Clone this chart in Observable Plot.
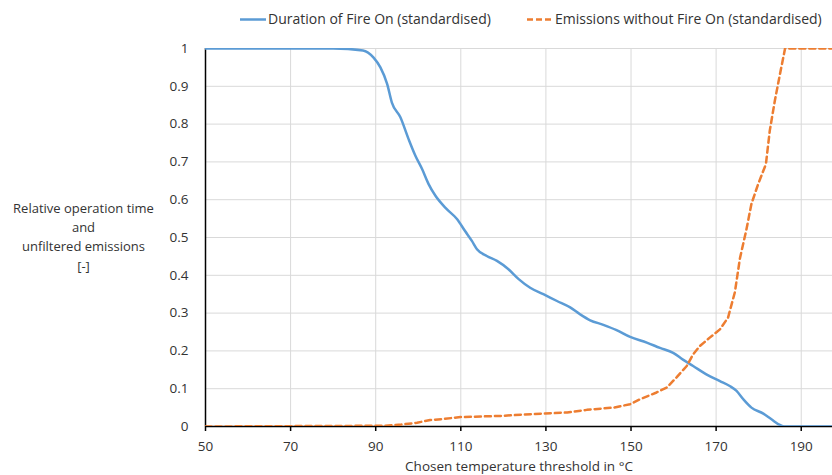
<!DOCTYPE html>
<html><head><meta charset="utf-8">
<script src="https://cdn.jsdelivr.net/npm/d3@7"></script>
<script src="https://cdn.jsdelivr.net/npm/@observablehq/plot@0.6"></script>
<style>
body{margin:0;background:#fff;font-family:"Open Sans",sans-serif;}
#wrap{position:relative;width:832px;height:475px;overflow:hidden;background:#fff}
#legend{position:relative;width:832px;height:38px;font-size:14px;color:#333}
.item{position:absolute;top:10px;height:18px;line-height:18px;white-space:nowrap}
.item svg{position:absolute;left:0;top:0}
.item span{position:absolute;left:28px;top:0}
#chart svg{display:block}
</style></head>
<body><div id="wrap"><div id="legend"></div><div id="chart"></div></div>
<script>
// ---- data ----
const seriesNames = ["Duration of Fire On (standardised)", "Emissions without Fire On (standardised)"];
const seriesColors = ["#5B9BD5", "#ED7D31"];

const fireX = [50, 80, 87, 89.5, 91.1, 92.7, 93.8, 95.8, 97.7, 99.3, 100.9, 102.4, 104.0, 106.7, 109.1, 111.0, 112.6, 113.8, 116.1, 118.5, 121.2, 123.6, 126.3, 129.4, 132.6, 135.7, 138.0, 140.4, 143.5, 146.6, 149.8, 153.7, 156.8, 159.9, 162.2, 164.6, 167.7, 170.9, 173.2, 174.8, 176.4, 178.3, 181.1, 183.0, 185.0, 186, 200];
const fireY = [1, 1, 0.995, 0.976, 0.95, 0.906, 0.857, 0.818, 0.761, 0.717, 0.681, 0.642, 0.611, 0.575, 0.549, 0.517, 0.491, 0.469, 0.451, 0.438, 0.416, 0.390, 0.367, 0.350, 0.332, 0.315, 0.297, 0.281, 0.269, 0.255, 0.237, 0.222, 0.208, 0.195, 0.177, 0.160, 0.138, 0.120, 0.107, 0.094, 0.072, 0.050, 0.034, 0.019, 0.004, 0, 0];

const emisX = [50, 91.9, 96, 99.7, 102.8, 106, 109.9, 119.3, 127.1, 135, 139.6, 145.9, 149.8, 152.1, 156, 158.4, 160.7, 163.1, 164.6, 166.2, 168.5, 170.9, 172.8, 174.4, 175.6, 177.1, 178.3, 179.9, 181.7, 182.6, 183.8, 185, 186.2, 200];
const emisY = [0, 0.002, 0.005, 0.01, 0.017, 0.02, 0.025, 0.028, 0.033, 0.037, 0.044, 0.050, 0.059, 0.072, 0.090, 0.103, 0.130, 0.160, 0.191, 0.213, 0.235, 0.257, 0.288, 0.355, 0.445, 0.520, 0.589, 0.642, 0.694, 0.782, 0.862, 0.932, 1, 1];

const xTicks = [50, 70, 90, 110, 130, 150, 170, 190];
const yTicks = [0, 0.1, 0.2, 0.3, 0.4, 0.5, 0.6, 0.7, 0.8, 0.9, 1];
const yLabel = "Relative operation time\nand\nunfiltered emissions\n[-]";
const xLabel = "Chosen temperature threshold in °C";

// ---- build ----
const fire = fireX.map((x, i) => ({x, y: fireY[i]}));
const emis = emisX.map((x, i) => ({x, y: emisY[i]}));

// legend
const legend = document.getElementById("legend");
const legendPos = [240, 527];
seriesNames.forEach((name, i) => {
  const d = document.createElement("div");
  d.className = "item";
  d.style.left = legendPos[i] + "px";
  const dash = i === 1 ? 'stroke-dasharray="6,3"' : '';
  d.innerHTML = `<svg width="27" height="18"><line x1="0" x2="26" y1="9.5" y2="9.5" stroke="${seriesColors[i]}" stroke-width="2.5" ${dash}/></svg><span>${name}</span>`;
  legend.appendChild(d);
});

const chart = Plot.plot({
  width: 832, height: 437,
  marginLeft: 205, marginRight: 0, marginTop: 10, marginBottom: 49,
  x: {domain: [50, 197.35], label: null},
  y: {domain: [0, 1], label: null},
  style: {fontFamily: "Open Sans", fontSize: "13.5px", color: "#333", background: "#fff"},
  marks: [
    Plot.gridX(xTicks.filter(d => d !== 50), {stroke: "#d9d9d9", strokeOpacity: 1}),
    Plot.gridY(yTicks, {stroke: "#d9d9d9", strokeOpacity: 1}),
    Plot.axisY(yTicks, {tickSize: 0, tickPadding: 17, tickFormat: d => String(d), fontSize: 13.5, fill: "#333"}),
    Plot.axisX(xTicks, {tickSize: 5, tickPadding: 10, tickFormat: d => String(d), stroke: "#000", strokeWidth: 1.5, fontSize: 13.5, fill: "#333"}),
    Plot.ruleY([0], {stroke: "#000", strokeWidth: 1.5}),
    Plot.ruleX([50], {stroke: "#000", strokeWidth: 1.5}),
    Plot.line(fire, {x: "x", y: "y", stroke: seriesColors[0], strokeWidth: 2.5, clip: true, curve: "monotone-x"}),
    Plot.line(emis, {x: "x", y: "y", stroke: seriesColors[1], strokeWidth: 2.5, strokeDasharray: "6,4", clip: true}),
    Plot.text([yLabel], {frameAnchor: "left", dx: -122, dy: -2, text: d => d, textAnchor: "middle", lineHeight: 1.5, fontSize: 13, fill: "#333"}),
    Plot.text([xLabel], {frameAnchor: "bottom", dy: 44, text: d => d, textAnchor: "middle", fontSize: 13.5, fill: "#333"})
  ]
});
document.getElementById("chart").appendChild(chart);
</script>
</body></html>
